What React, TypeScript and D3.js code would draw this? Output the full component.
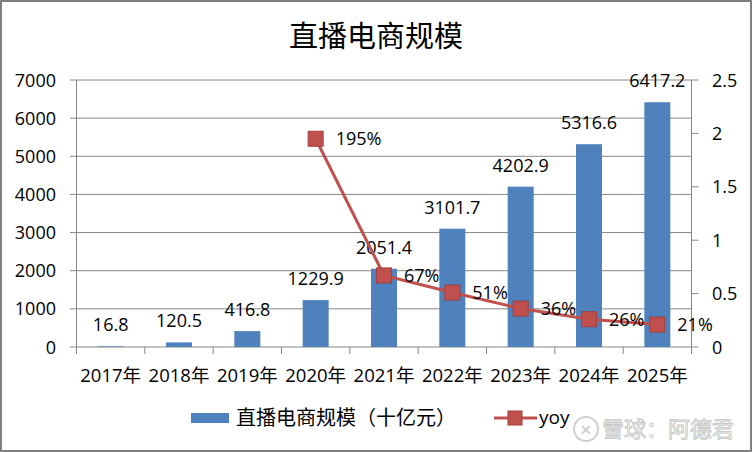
import React from "react";
import * as d3 from "d3";

const years = ["2017年", "2018年", "2019年", "2020年", "2021年", "2022年", "2023年", "2024年", "2025年"];
const scale = [16.8, 120.5, 416.8, 1229.9, 2051.4, 3101.7, 4202.9, 5316.6, 6417.2];
const yoyYears = ["2020年", "2021年", "2022年", "2023年", "2024年", "2025年"];
const yoy = [1.95, 0.67, 0.51, 0.36, 0.26, 0.21];
const yoyLabels = ["195%", "67%", "51%", "36%", "26%", "21%"];
const leftTicks = [0, 1000, 2000, 3000, 4000, 5000, 6000, 7000];
const rightTicks = [0, 0.5, 1, 1.5, 2, 2.5];
const rightTickLabels = ["0", "0.5", "1", "1.5", "2", "2.5"];

const W = 752, H = 452;
const L = 76.5, R = 691.5, T = 80, B = 347;
const FONT = "'Open Sans', 'Noto Sans CJK SC', sans-serif";
const BAR = "#4F81BD";
const RED = "#C0504D";

export default function App() {
  const x = d3.scaleBand().domain(years).range([L, R]).paddingInner(0).paddingOuter(0);
  const yL = d3.scaleLinear().domain([0, 7000]).range([B, T]);
  const yR = d3.scaleLinear().domain([0, 2.5]).range([B, T]);
  const bw = 26;
  const cx = (c: string) => (x(c) as number) + x.bandwidth() / 2;
  const line = d3
    .line<number>()
    .x((_, i) => cx(yoyYears[i]))
    .y((d) => yR(d));

  return (
    <svg
      width={W}
      height={H}
      style={{ position: "absolute", left: 0, top: 0, background: "#fff" }}
      fontFamily={FONT}
    >
      <rect x={1} y={1} width={W - 2} height={H - 2} fill="#fff" stroke="#7f7f7f" strokeWidth={2} />
      <text x={376} y={47} textAnchor="middle" fontSize={29} fill="#000" fontFamily="'Noto Sans CJK SC', sans-serif">
        直播电商规模
      </text>

      {/* gridlines */}
      {leftTicks.map((t) => (
        <g key={t}>
          <line x1={70} x2={R} y1={yL(t)} y2={yL(t)} stroke="#868686" strokeWidth={1} />
          <text x={56} y={yL(t) + 6.5} textAnchor="end" fontSize={18} fill="#000">
            {t}
          </text>
        </g>
      ))}
      {/* left axis */}
      <line x1={L} x2={L} y1={T} y2={B} stroke="#868686" strokeWidth={1} />
      {/* right axis */}
      <line x1={R} x2={R} y1={T} y2={B} stroke="#868686" strokeWidth={1} />
      {rightTicks.map((t, i) => (
        <g key={t}>
          <line x1={R} x2={R + 7} y1={yR(t)} y2={yR(t)} stroke="#868686" strokeWidth={1} />
          <text x={712} y={yR(t) + 6.5} textAnchor="start" fontSize={18} fill="#000">
            {rightTickLabels[i]}
          </text>
        </g>
      ))}
      {/* bottom ticks */}
      {years.map((c) => (
        <line key={c} x1={x(c)} x2={x(c)} y1={B} y2={B + 7} stroke="#868686" strokeWidth={1} />
      ))}
      <line x1={R} x2={R} y1={B} y2={B + 7} stroke="#868686" strokeWidth={1} />
      {years.map((c) => (
        <text key={c} x={cx(c)} y={382} textAnchor="middle" fontSize={18.5} fill="#000">
          {c}
        </text>
      ))}

      {/* bars */}
      {years.map((c, i) => (
        <rect key={c} x={cx(c) - bw / 2} y={yL(scale[i])} width={bw} height={B - yL(scale[i])} fill={BAR} />
      ))}
      {years.map((c, i) => (
        <text key={c} x={cx(c)} y={yL(scale[i]) - 15} textAnchor="middle" fontSize={18} fill="#000">
          {scale[i]}
        </text>
      ))}

      {/* yoy line */}
      <path d={line(yoy) || ""} fill="none" stroke={RED} strokeWidth={3} />
      {yoy.map((v, i) => (
        <rect
          key={i}
          x={cx(yoyYears[i]) - 7.5}
          y={yR(v) - 7.5}
          width={15}
          height={15}
          fill={RED}
          stroke="#A33F3C"
          strokeWidth={1}
        />
      ))}
      {yoy.map((v, i) => (
        <text key={i} x={cx(yoyYears[i]) + 20} y={yR(v) + 6.5} textAnchor="start" fontSize={18} fill="#000">
          {yoyLabels[i]}
        </text>
      ))}

      {/* legend */}
      <rect x={191} y={413} width={38} height={10} fill={BAR} />
      <text x={236} y={425} fontSize={20} fill="#000">
        直播电商规模（十亿元）
      </text>
      <line x1={494} x2={537} y1={418} y2={418} stroke={RED} strokeWidth={3} />
      <rect x={508} y={411} width={14} height={14} fill={RED} stroke="#A33F3C" strokeWidth={1} />
      <text x={539} y={424} fontSize={19} fill="#000">
        yoy
      </text>

      {/* watermark */}
      <g opacity={0.85}>
        <circle cx={586} cy={429} r={12} fill="none" stroke="#c8c8c8" strokeWidth={2} />
        <text x={586} y={435} textAnchor="middle" fontSize={14} fill="#c8c8c8" fontWeight="bold">
          ✕
        </text>
        <text x={602} y={437} fontSize={22} fill="#f4f4f4" stroke="#bdbdbd" strokeWidth={0.8} fontFamily="'Noto Sans CJK SC', sans-serif">
          雪球：阿德君
        </text>
      </g>
    </svg>
  );
}
